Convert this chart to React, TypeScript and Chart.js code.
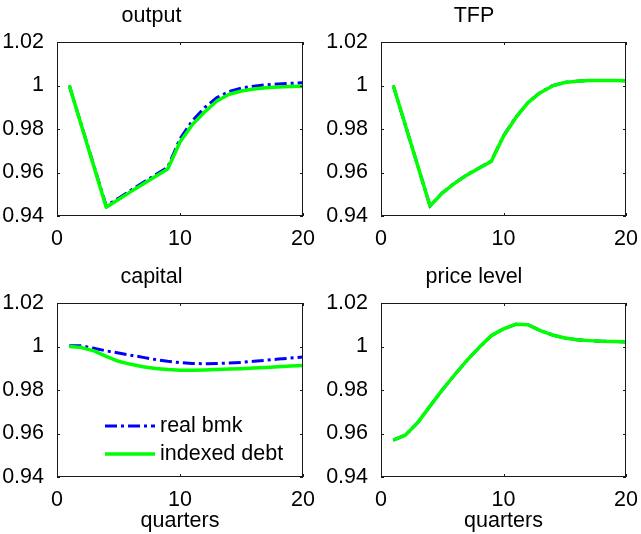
import React, { useEffect, useRef } from 'react';
import { Chart, registerables } from 'chart.js';

Chart.register(...registerables);

// Impulse responses over 20 quarters, two model variants.
const quarters = [1, 2, 3, 4, 5, 6, 7, 8, 9, 10, 11, 12, 13, 14, 15, 16, 17, 18, 19, 20];

const outputRealBmk = [1.0, 0.9815, 0.9631, 0.9447, 0.9482, 0.9518, 0.9554, 0.9589, 0.9624, 0.9755, 0.9838, 0.9898, 0.9945, 0.9972, 0.9988, 0.9997, 1.0003, 1.0007, 1.001, 1.0013];
const outputIndexed = [1.0, 0.9813, 0.9627, 0.944, 0.9476, 0.9512, 0.9547, 0.9582, 0.9616, 0.974, 0.982, 0.9878, 0.9929, 0.996, 0.9975, 0.9984, 0.999, 0.9993, 0.9995, 0.9997];

const tfpRealBmk = [1.0, 0.9815, 0.9631, 0.9447, 0.9506, 0.9551, 0.9589, 0.9621, 0.9652, 0.9769, 0.9854, 0.9922, 0.9968, 0.9999, 1.0014, 1.002, 1.0023, 1.0023, 1.0023, 1.0022];
const tfpIndexed = [1.0, 0.9815, 0.9631, 0.9446, 0.9505, 0.955, 0.9588, 0.962, 0.9651, 0.9767, 0.9852, 0.9921, 0.9967, 0.9998, 1.0014, 1.002, 1.0023, 1.0023, 1.0023, 1.0022];

const capitalRealBmk = [1.0003, 1.0003, 0.9992, 0.998, 0.997, 0.996, 0.995, 0.994, 0.9932, 0.9926, 0.9922, 0.9921, 0.9922, 0.9924, 0.9927, 0.9932, 0.9937, 0.9942, 0.9947, 0.9952];
const capitalIndexed = [1.0, 0.9995, 0.998, 0.9955, 0.9932, 0.9918, 0.9907, 0.9899, 0.9894, 0.9891, 0.9891, 0.9892, 0.9894, 0.9896, 0.9898, 0.9901, 0.9904, 0.9907, 0.991, 0.9913];

const priceRealBmk = [0.957, 0.9593, 0.965, 0.9726, 0.98, 0.9869, 0.9935, 0.9995, 1.005, 1.0081, 1.0102, 1.01, 1.0073, 1.0053, 1.0039, 1.0031, 1.0027, 1.0024, 1.0023, 1.0021];
const priceIndexed = [0.957, 0.9593, 0.965, 0.9726, 0.98, 0.9869, 0.9935, 0.9995, 1.005, 1.0081, 1.0102, 1.01, 1.0073, 1.0053, 1.0039, 1.0031, 1.0027, 1.0024, 1.0023, 1.0021];

const seriesNames = ['real bmk', 'indexed debt'];
const panelTitles = ['output', 'TFP', 'capital', 'price level'];
const xAxisLabel = 'quarters';

const xMin = 0;
const xMax = 20;
const xStep = 10;
const yMin = 0.94;
const yMax = 1.02;
const yStep = 0.02;

const FONT = '"Liberation Sans", Arial, Helvetica, sans-serif';
const FONT_SIZE = 21.5;
const BLUE = '#0000ff';
const GREEN = '#00ff00';

// Box around the plot area plus short inward tick marks on all four sides.
const framePlugin = {
  id: 'frame',
  afterDatasetsDraw(chart: any) {
    const { ctx, chartArea } = chart;
    const { left, right, top, bottom } = chartArea;
    const xs = chart.scales.x;
    const ys = chart.scales.y;
    const len = 3;
    ctx.save();
    ctx.strokeStyle = '#1a1a1a';
    ctx.lineWidth = 1;
    ctx.beginPath();
    xs.ticks.forEach((t: any) => {
      const px = Math.round(xs.getPixelForValue(t.value)) + 0.5;
      ctx.moveTo(px, bottom);
      ctx.lineTo(px, bottom - len);
      ctx.moveTo(px, top);
      ctx.lineTo(px, top + len);
    });
    ys.ticks.forEach((t: any) => {
      const py = Math.round(ys.getPixelForValue(t.value)) + 0.5;
      ctx.moveTo(left, py);
      ctx.lineTo(left + len, py);
      ctx.moveTo(right, py);
      ctx.lineTo(right - len, py);
    });
    ctx.stroke();
    ctx.strokeRect(Math.round(left) + 0.5, Math.round(top) + 0.5, Math.round(right - left) - 1, Math.round(bottom - top) - 1);
    ctx.restore();
  },
};

// Legend drawn inside the plot area, using the datasets' own line styles.
const innerLegendPlugin = {
  id: 'innerLegend',
  afterDraw(chart: any) {
    const { ctx, chartArea } = chart;
    const rows = [chart.data.datasets[1], chart.data.datasets[0]];
    ctx.save();
    ctx.font = `${FONT_SIZE}px ${FONT}`;
    ctx.textBaseline = 'middle';
    ctx.textAlign = 'left';
    rows.forEach((ds: any, i: number) => {
      const y = chartArea.top + 123 + i * 28;
      ctx.beginPath();
      ctx.strokeStyle = ds.borderColor;
      ctx.lineWidth = ds.borderWidth;
      ctx.setLineDash(ds.borderDash || []);
      ctx.moveTo(chartArea.left + 48, y);
      ctx.lineTo(chartArea.left + 98, y);
      ctx.stroke();
      ctx.setLineDash([]);
      ctx.fillStyle = '#000';
      ctx.fillText(ds.label, chartArea.left + 103, y);
    });
    ctx.restore();
  },
};

const fmt = (v: number) => String(parseFloat(Number(v).toFixed(2)));

type PanelProps = {
  title: string;
  real: number[];
  indexed: number[];
  left: number;
  top: number;
  width: number;
  height: number;
  yAxisWidth: number;
  padRight: number;
  xAxisHeight: number;
  showXTitle: boolean;
  showLegend: boolean;
};

function Panel(p: PanelProps) {
  const ref = useRef<HTMLCanvasElement>(null);
  useEffect(() => {
    const canvas = ref.current;
    if (!canvas) return;
    const chart = new Chart(canvas, {
      type: 'line',
      data: {
        datasets: [
          {
            label: seriesNames[1],
            data: quarters.map((q, i) => ({ x: q, y: p.indexed[i] })),
            borderColor: GREEN,
            borderWidth: 3.5,
            pointRadius: 0,
            tension: 0,
            fill: false,
            borderJoinStyle: 'round',
          },
          {
            label: seriesNames[0],
            data: quarters.map((q, i) => ({ x: q, y: p.real[i] })),
            borderColor: BLUE,
            borderWidth: 3,
            borderDash: [12, 4, 3, 4],
            pointRadius: 0,
            tension: 0,
            fill: false,
          },
        ],
      },
      options: {
        animation: false,
        responsive: false,
        devicePixelRatio: 1,
        layout: { padding: { left: 0, right: p.padRight, top: 0, bottom: 0 } },
        plugins: {
          legend: { display: false },
          tooltip: { enabled: false },
          title: {
            display: true,
            text: p.title,
            color: '#000',
            font: { family: FONT, size: FONT_SIZE, weight: 'normal' },
            padding: { top: 3.5, bottom: 12.7 },
          },
        },
        scales: {
          x: {
            type: 'linear',
            min: xMin,
            max: xMax,
            grid: { display: false },
            border: { display: false },
            ticks: {
              stepSize: xStep,
              color: '#000',
              padding: 2,
              maxRotation: 0,
              font: { family: FONT, size: FONT_SIZE },
            },
            title: {
              display: p.showXTitle,
              text: xAxisLabel,
              color: '#000',
              font: { family: FONT, size: FONT_SIZE },
              padding: { top: 0, bottom: 0 },
            },
            afterFit: (s: any) => {
              s.height = p.xAxisHeight;
            },
          },
          y: {
            type: 'linear',
            min: yMin,
            max: yMax,
            grid: { display: false },
            border: { display: false },
            ticks: {
              stepSize: yStep,
              color: '#000',
              padding: 5,
              font: { family: FONT, size: FONT_SIZE },
              callback: (v: any) => fmt(v),
            },
            afterFit: (s: any) => {
              s.width = p.yAxisWidth;
            },
          },
        },
      } as any,
      plugins: p.showLegend ? [framePlugin, innerLegendPlugin] : [framePlugin],
    });
    return () => chart.destroy();
  }, []);
  return (
    <canvas
      ref={ref}
      width={p.width}
      height={p.height}
      style={{ position: 'absolute', left: p.left, top: p.top, width: p.width, height: p.height }}
    />
  );
}

export default function App() {
  const topH = 261;
  const botH = 273;
  return (
    <div style={{ position: 'absolute', left: 0, top: 0, width: 641, height: 534, background: '#fff', overflow: 'hidden' }}>
      <Panel title={panelTitles[0]} real={outputRealBmk} indexed={outputIndexed}
        left={0} top={0} width={322} height={topH} yAxisWidth={57} padRight={19}
        xAxisHeight={topH - 216} showXTitle={false} showLegend={false} />
      <Panel title={panelTitles[1]} real={tfpRealBmk} indexed={tfpIndexed}
        left={322} top={0} width={319} height={topH} yAxisWidth={59} padRight={15}
        xAxisHeight={topH - 216} showXTitle={false} showLegend={false} />
      <Panel title={panelTitles[2]} real={capitalRealBmk} indexed={capitalIndexed}
        left={0} top={topH} width={322} height={botH} yAxisWidth={57} padRight={19}
        xAxisHeight={botH - 216} showXTitle={true} showLegend={true} />
      <Panel title={panelTitles[3]} real={priceRealBmk} indexed={priceIndexed}
        left={322} top={topH} width={319} height={botH} yAxisWidth={59} padRight={15}
        xAxisHeight={botH - 216} showXTitle={true} showLegend={false} />
    </div>
  );
}
